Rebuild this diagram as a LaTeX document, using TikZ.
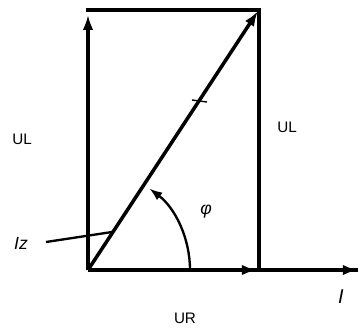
\documentclass[tikz,border=0pt]{standalone}
\usepackage{fontspec}
\setmainfont{Liberation Sans}
\usetikzlibrary{arrows.meta}

\begin{document}
\begin{tikzpicture}[x=0.03cm,y=-0.03cm,
  vec/.style={line width=3pt,-{Latex[length=13pt,width=9pt]}},
  edge/.style={line width=3pt},
  lbl/.style={font=\fontsize{13}{15}\selectfont}]
\useasboundingbox (0,0) rectangle (362,328);
\coordinate (O) at (88,270);
\coordinate (TL) at (88,10);
\coordinate (TR) at (259,10);
\coordinate (BR) at (259,270);
\coordinate (R) at (257,270);
\coordinate (I) at (358,270);
% rectangle sides
\draw[edge,line cap=rect] (TL)--(TR)--(BR);
\draw[edge] (O)--(I);
\draw[vec] (O)--([yshift=-4]TL);
\draw[vec] (O)--(R);
\draw[vec] (BR)--(I);
\draw[vec] (O)--(258,11);
% tick on the diagonal
\draw[line width=1.2pt] (192,100)--(207,102);
% angle
\draw[line width=2pt,-{Latex[length=11pt,width=8pt]}] (190,270) arc[start angle=0,end angle=-53,radius=102];
\node (phi) at (206,212) {\fontsize{15}{17}\selectfont\itshape φ};
% current of the diagonal
\node (iz) at (21,243) {\fontsize{15}{17}\selectfont\itshape Iz};
\coordinate (izend) at (112,232);
\draw[line width=2pt] (46,242)--(izend);
% labels
\node[lbl] (ul1) at (22,139) {UL};
\node[lbl] (ul2) at (287,127) {UL};
\node[lbl] (ur) at (185,318) {UR};
\node (cur) at (341,297) {\fontsize{17}{19}\selectfont\itshape I};
\end{tikzpicture}
\end{document}
